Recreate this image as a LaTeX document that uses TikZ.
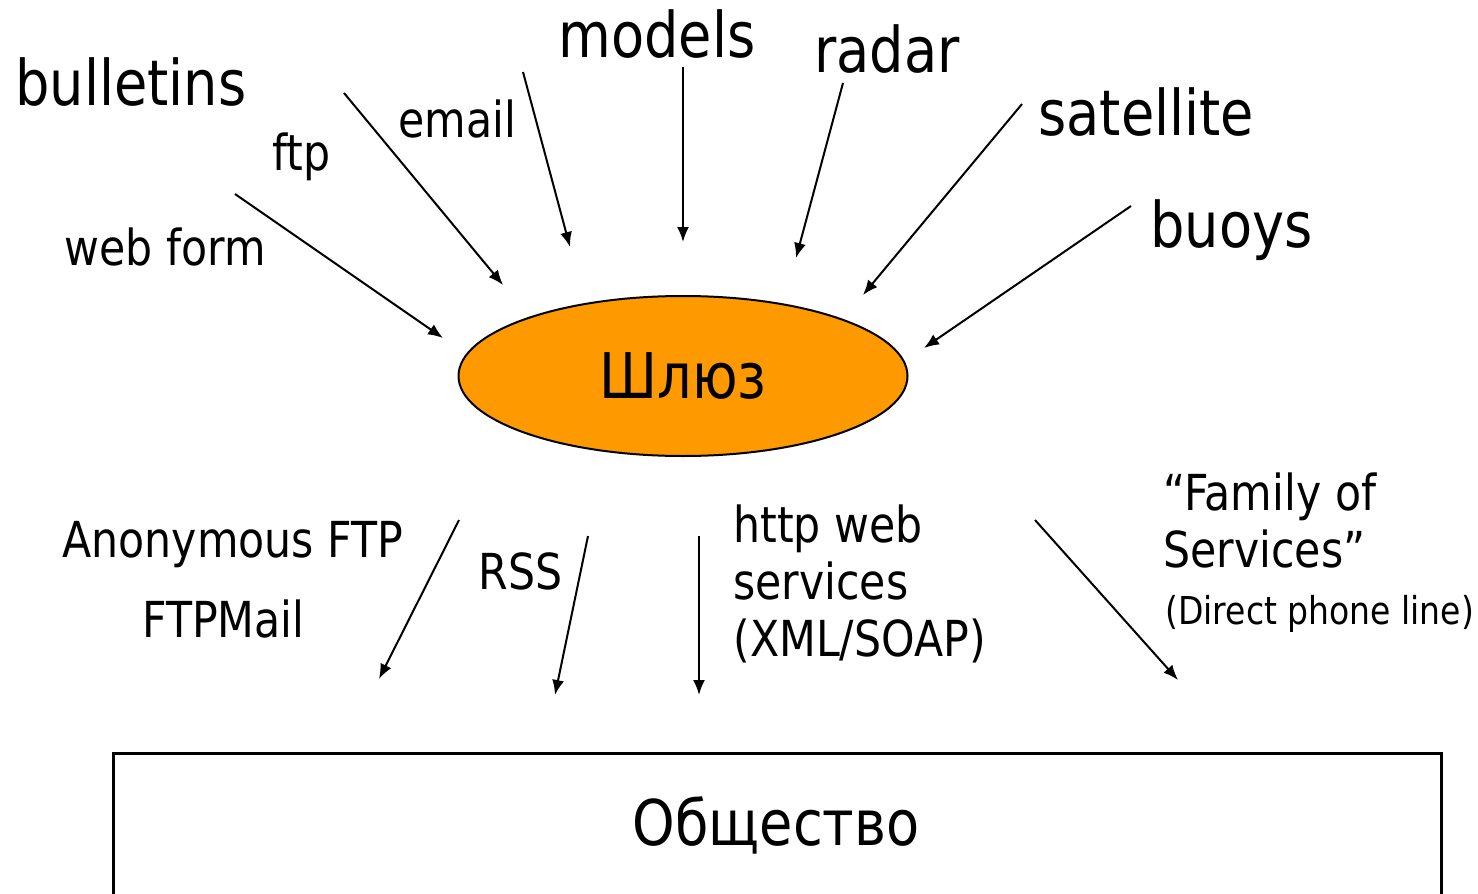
\documentclass[tikz,border=0pt]{standalone}
\usepackage{fontspec}
\setmainfont{DejaVu Sans}[FakeStretch=0.86]
\usetikzlibrary{shapes.geometric,arrows.meta}
\definecolor{gateorange}{RGB}{255,153,0}
\newcommand\lblbig{\fontsize{31.5pt}{38pt}\selectfont}
\newcommand\lblmid{\fontsize{24.8pt}{28.5pt}\selectfont}
\newcommand\lblsmall{\fontsize{19.2pt}{22pt}\selectfont}
\tikzset{
  src/.style={anchor=base west, inner sep=0pt, font=\lblbig},
  via/.style={anchor=base west, inner sep=0pt, font=\lblmid, align=left},
  flow/.style={line width=1pt, -{Latex[length=7.5pt,width=6pt]}},
  gatenode/.style={ellipse, draw, line width=1pt, fill=gateorange,
    minimum width=224.5pt, minimum height=80pt, inner sep=0pt, font=\lblbig},
  societybox/.style={rectangle, draw, line width=1.5pt, minimum width=664pt,
    minimum height=150pt, inner sep=0pt}
}
\begin{document}
\begin{tikzpicture}[x=0.5pt, y=-0.5pt]
\useasboundingbox (0,0) rectangle (1478,894);
\clip (0,0) rectangle (1478,894);

% central gateway
\node[gatenode] (gate) at (683,376) {Шлюз};

% receiving side
\node[societybox] (society) at (777,903) {};
\node[anchor=base, inner sep=0pt, font=\lblbig] (societytext) at (776,845) {Общество};

% incoming sources
\node[src] (bulletins) at (15,105) {bulletins};
\node[src] (models) at (558,57) {models};
\node[src] (radar) at (814,72) {radar};
\node[src] (satellite) at (1038,135) {satellite};
\node[src] (buoys) at (1150,247) {buoys};

% incoming channels
\node[via] (ftp) at (272,170) {ftp};
\node[via] (webform) at (64,265) {web form};
\node[via] (email) at (398,137) {email};

% outgoing channels (multi-line nodes sit on the baseline of their last line)
\node[via] (anonftp) at (62,557) {Anonymous FTP};
\node[via] (ftpmail) at (142,637) {FTPMail};
\node[via] (rss) at (478,589) {RSS};
\node[via] (http) at (733,656) {http web\\services\\(XML/SOAP)};
\node[via] (family) at (1163,567) {“Family of\\Services”};
\node[anchor=base west, inner sep=0pt, font=\lblsmall] (phone) at (1165,624) {(Direct phone line)};

% arrow end points
\coordinate (webformA) at (235,194);   \coordinate (webformB) at (443,338);
\coordinate (ftpA) at (344,93);        \coordinate (ftpB) at (503,285);
\coordinate (emailA) at (523,72);      \coordinate (emailB) at (570,247);
\coordinate (modelsA) at (683,67);     \coordinate (modelsB) at (683,242);
\coordinate (radarA) at (843,83);      \coordinate (radarB) at (796,258);
\coordinate (satA) at (1022,104);      \coordinate (satB) at (863,295);
\coordinate (buoysA) at (1131,206);    \coordinate (buoysB) at (924,348);

\coordinate (anonA) at (459,520);      \coordinate (anonB) at (379,679);
\coordinate (rssA) at (588,536);       \coordinate (rssB) at (555,695);
\coordinate (httpA) at (699,536);      \coordinate (httpB) at (699,695);
\coordinate (familyA) at (1035,520);   \coordinate (familyB) at (1178,680);

% arrows into the gateway
\draw[flow] (webformA) -- (webformB);
\draw[flow] (ftpA) -- (ftpB);
\draw[flow] (emailA) -- (emailB);
\draw[flow] (modelsA) -- (modelsB);
\draw[flow] (radarA) -- (radarB);
\draw[flow] (satA) -- (satB);
\draw[flow] (buoysA) -- (buoysB);

% arrows out to the public
\draw[flow] (anonA) -- (anonB);
\draw[flow] (rssA) -- (rssB);
\draw[flow] (httpA) -- (httpB);
\draw[flow] (familyA) -- (familyB);
\end{tikzpicture}
\end{document}
